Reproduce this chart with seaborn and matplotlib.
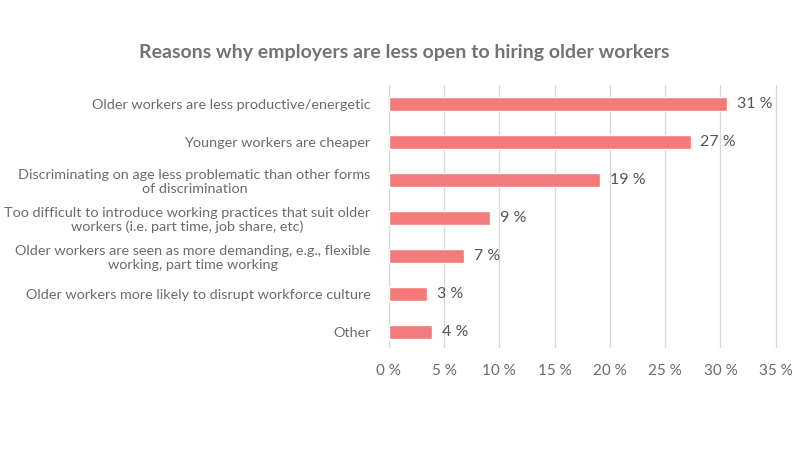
import pandas as pd
import matplotlib.pyplot as plt
import seaborn as sns

# Data
reasons = [
    "Older workers are less productive/energetic",
    "Younger workers are cheaper",
    "Discriminating on age less problematic than other forms\nof discrimination",
    "Too difficult to introduce working practices that suit older\nworkers (i.e. part time, job share, etc)",
    "Older workers are seen as more demanding, e.g., flexible\nworking, part time working",
    "Older workers more likely to disrupt workforce culture",
    "Other",
]
shares = [30.6, 27.3, 19.1, 9.2, 6.8, 3.5, 3.9]
share_labels = ["31 %", "27 %", "19 %", "9 %", "7 %", "3 %", "4 %"]
x_ticks = [0, 5, 10, 15, 20, 25, 30, 35]

df = pd.DataFrame({"Reason": reasons, "Share": shares})

sns.set_style("white")
plt.rcParams["font.family"] = ["Lato", "DejaVu Sans"]

text_col = "#6b6b6b"
bar_col = "#F47B7B"

fig = plt.figure(figsize=(8.08, 4.54), dpi=100)
ax = fig.add_axes([0.481, 0.236, 0.479, 0.577])

sns.barplot(data=df, x="Share", y="Reason", orient="h", color=bar_col,
            width=0.36, saturation=1, ax=ax)

# value labels
for i, (v, lab) in enumerate(zip(shares, share_labels)):
    ax.text(v + 0.9, i, lab, va="center", ha="left", fontsize=11.5, color="#555555")

ax.set_xlim(0, 35)
ax.set_xticks(x_ticks)
ax.set_xticklabels([f"{t} %" for t in x_ticks], fontsize=11, color=text_col)
ax.set_yticks(range(len(reasons)))
ax.set_yticklabels(reasons, fontsize=10.4, color=text_col, multialignment="center")
ax.set_ylim(6.4, -0.5)
ax.tick_params(axis="y", length=0, pad=13)
ax.tick_params(axis="x", length=0, pad=12)
ax.set_xlabel("")
ax.set_ylabel("")

ax.grid(axis="x", color="#d9d9d9", linewidth=1)
for gl in ax.get_xgridlines():
    gl.set_clip_on(False)
ax.set_axisbelow(True)
sns.despine(ax=ax, left=True, bottom=True)

fig.text(0.5, 0.885, "Reasons why employers are less open to hiring older workers",
         ha="center", va="center", fontsize=14, fontweight="bold", color="#737373")

fig.savefig("out.png", dpi=100)
